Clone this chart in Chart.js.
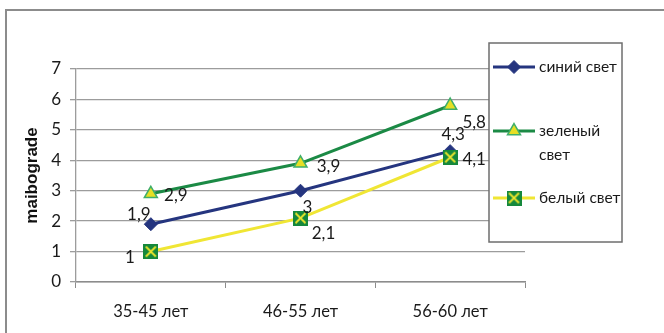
<!DOCTYPE html>
<html>
<head>
<meta charset="utf-8">
<script src="https://cdn.jsdelivr.net/npm/chart.js@4/dist/chart.umd.min.js"></script>
<style>
  html, body { margin: 0; padding: 0; background: #fff; overflow: hidden; }
  #wrap { width: 664px; height: 333px; position: relative; }
</style>
</head>
<body>
<div id="wrap"><canvas id="c" width="664" height="333"></canvas></div>
<script>
// Age groups and mean scores per light colour
const categories = ['35-45 лет', '46-55 лет', '56-60 лет'];
const seriesNames = ['синий свет', 'зеленый свет', 'белый свет'];
const blueValues = [1.9, 3, 4.3];
const greenValues = [2.9, 3.9, 5.8];
const whiteValues = [1, 2.1, 4.1];
const yTicks = [0, 1, 2, 3, 4, 5, 6, 7];
const yTitle = 'maibograde';

const FONT = "Lato, 'Noto Sans', sans-serif";

// green square with a yellow cross, used as the marker of the white-light series
function crossSquare(size) {
  const c = document.createElement('canvas');
  c.width = size; c.height = size;
  const g = c.getContext('2d');
  g.fillStyle = '#15883c';
  g.fillRect(0, 0, size, size);
  g.strokeStyle = '#eee62c';
  g.lineWidth = 1.8;
  g.beginPath();
  g.moveTo(2.5, 2.5); g.lineTo(size - 2.5, size - 2.5);
  g.moveTo(size - 2.5, 2.5); g.lineTo(2.5, size - 2.5);
  g.stroke();
  return c;
}
const crossMarker = crossSquare(15);

const fmt = v => String(v).replace('.', ',');

// outer frame and white background
const framePlugin = {
  id: 'frame',
  beforeDraw(chart) {
    const ctx = chart.ctx;
    ctx.save();
    ctx.fillStyle = '#fff';
    ctx.fillRect(0, 0, chart.width, chart.height);
    ctx.strokeStyle = '#8c8c8c';
    ctx.lineWidth = 2;
    ctx.strokeRect(6, 10, chart.width + 10, chart.height + 10);
    ctx.restore();
  }
};

// value labels next to each point, shifted per point
const valueLabelPlugin = {
  id: 'valueLabels',
  afterDatasetsDraw(chart, args, opts) {
    const ctx = chart.ctx;
    ctx.save();
    ctx.font = opts.font;
    ctx.fillStyle = opts.color;
    ctx.textAlign = 'center';
    ctx.textBaseline = 'middle';
    chart.data.datasets.forEach((ds, di) => {
      const meta = chart.getDatasetMeta(di);
      meta.data.forEach((pt, i) => {
        const off = opts.offsets[di][i];
        ctx.fillText(fmt(ds.data[i]), pt.x + off[0], pt.y + off[1]);
      });
    });
    ctx.restore();
  }
};

// boxed legend on the right, with word wrapping
const boxLegendPlugin = {
  id: 'boxLegend',
  afterDraw(chart, args, o) {
    const ctx = chart.ctx;
    ctx.save();
    ctx.fillStyle = '#fff';
    ctx.fillRect(o.x, o.y, o.w, o.h);
    ctx.strokeStyle = '#6e6e6e';
    ctx.lineWidth = 1.5;
    ctx.strokeRect(o.x, o.y, o.w, o.h);
    ctx.font = o.font;
    ctx.textBaseline = 'middle';
    ctx.textAlign = 'left';
    chart.data.datasets.forEach((ds, di) => {
      const cy = o.rows[di];
      ctx.strokeStyle = ds.borderColor;
      ctx.lineWidth = ds.borderWidth;
      ctx.beginPath();
      ctx.moveTo(o.x + 4, cy);
      ctx.lineTo(o.x + 46, cy);
      ctx.stroke();
      ctx.fillStyle = ds.pointBackgroundColor;
      ctx.strokeStyle = ds.pointBorderColor;
      ctx.lineWidth = ds.pointBorderWidth;
      Chart.helpers.drawPoint(ctx, {
        pointStyle: ds.pointStyle, radius: ds.pointRadius, rotation: 0,
        borderWidth: ds.pointBorderWidth
      }, o.x + 25, cy);
      // wrap label into lines
      const words = ds.label.split(' ');
      const lines = [];
      let cur = '';
      words.forEach(w => {
        const t = cur ? cur + ' ' + w : w;
        if (cur && ctx.measureText(t).width > o.maxText) { lines.push(cur); cur = w; }
        else cur = t;
      });
      if (cur) lines.push(cur);
      ctx.fillStyle = '#1a1a1a';
      lines.forEach((ln, li) => ctx.fillText(ln, o.x + 50, cy + li * o.lineHeight));
    });
    ctx.restore();
  }
};

new Chart(document.getElementById('c'), {
  type: 'line',
  data: {
    labels: categories,
    datasets: [
      {
        label: seriesNames[0], data: blueValues, order: 1,
        borderColor: '#25357f', borderWidth: 3,
        pointStyle: 'rectRot', pointRadius: 6.5, pointHoverRadius: 6.5,
        pointBackgroundColor: '#25357f', pointBorderColor: '#25357f', pointBorderWidth: 1
      },
      {
        label: seriesNames[1], data: greenValues, order: 2,
        borderColor: '#1b8a45', borderWidth: 3,
        pointStyle: 'triangle', pointRadius: 7.5, pointHoverRadius: 7.5,
        pointBackgroundColor: '#e6df24', pointBorderColor: '#3fae6a', pointBorderWidth: 1.5
      },
      {
        label: seriesNames[2], data: whiteValues, order: 0,
        borderColor: '#f0e634', borderWidth: 3,
        pointStyle: crossMarker, pointRadius: 8, pointHoverRadius: 8,
        pointBackgroundColor: '#15883c', pointBorderColor: '#15883c', pointBorderWidth: 0
      }
    ]
  },
  options: {
    responsive: false,
    animation: false,
    devicePixelRatio: 1,
    layout: { padding: { top: 69, right: 139, left: 0, bottom: 0 } },
    elements: { line: { tension: 0 } },
    scales: {
      x: {
        type: 'category',
        offset: true,
        afterFit: s => { s.height = 51; },
        grid: { offset: true, drawOnChartArea: false, tickLength: 6, color: '#8c8c8c', lineWidth: 1 },
        border: { color: '#8c8c8c', width: 1.5 },
        ticks: { color: '#1a1a1a', padding: 14, font: { family: FONT, size: 16.5 } }
      },
      y: {
        min: yTicks[0], max: yTicks[yTicks.length - 1],
        afterFit: s => { s.width = 76; },
        afterBuildTicks: s => { s.ticks = yTicks.map(v => ({ value: v })); },
        grid: { color: '#9c9c9c', lineWidth: 1.3, tickLength: 6 },
        border: { color: '#9c9c9c', width: 1.3 },
        ticks: { color: '#1a1a1a', padding: 9, font: { family: FONT, size: 17 } },
        title: {
          display: true, text: yTitle, color: '#111',
          font: { family: "'Liberation Sans', Arial, sans-serif", size: 17, weight: 'bold' },
          padding: { top: 22, bottom: 0 }
        }
      }
    },
    plugins: {
      legend: { display: false },
      tooltip: { enabled: false },
      valueLabels: {
        font: "17px " + FONT,
        color: '#1a1a1a',
        offsets: [
          [[-12, -10], [7, 17], [3, -17]],
          [[25, 2], [28, 3], [24, 17]],
          [[-21, 6], [23, 15], [24, 2]]
        ]
      },
      boxLegend: {
        x: 489, y: 43, w: 133, h: 199,
        rows: [67, 131, 198], lineHeight: 24, maxText: 84,
        font: "15.5px " + FONT
      }
    }
  },
  plugins: [framePlugin, valueLabelPlugin, boxLegendPlugin]
});
</script>
</body>
</html>
